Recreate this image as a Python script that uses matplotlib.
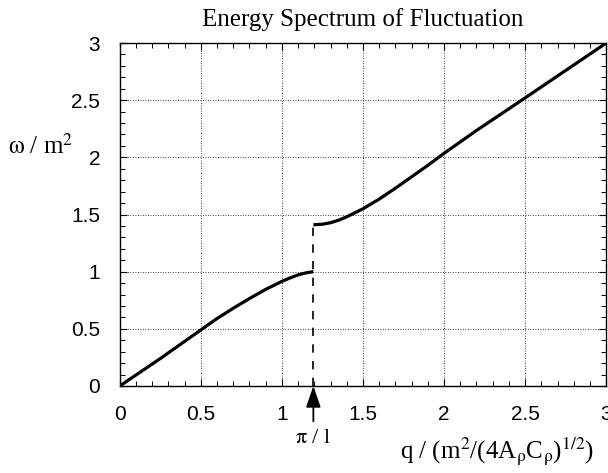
import numpy as np
import matplotlib
matplotlib.use('Agg')
import matplotlib.pyplot as plt
from matplotlib.ticker import MultipleLocator

# values
q_lower = [0.0, 0.25, 0.5, 0.6, 0.7, 0.8, 0.9, 1.0, 1.05, 1.1, 1.15, 1.194]
w_lower = [0.0, 0.24, 0.49, 0.59, 0.68, 0.765, 0.845, 0.915, 0.945, 0.972, 0.99, 1.0]
q_upper = [1.194, 1.25, 1.3, 1.35, 1.4, 1.45, 1.5, 1.6, 1.7, 1.8, 1.9, 2.0, 2.2, 2.5, 3.0]
w_upper = [1.41, 1.415, 1.428, 1.45, 1.48, 1.515, 1.55, 1.635, 1.73, 1.83, 1.93, 2.035, 2.235, 2.52, 3.0]
q_gap = 1.194
gap_label = r'$\mathrm{\pi}$ / l'
title = 'Energy Spectrum of Fluctuation'

plt.rcParams['mathtext.fontset'] = 'stix'
serif = 'Liberation Serif'
sans = 'Liberation Sans'

fig = plt.figure(figsize=(6.08, 4.73), dpi=100)
ax = fig.add_axes([0.197, 0.184, 0.800, 0.725])

ax.plot(q_lower, w_lower, color='k', lw=2.3, solid_capstyle='butt')
ax.plot(q_upper, w_upper, color='k', lw=2.3, solid_capstyle='butt')
ax.plot([q_gap, q_gap], [0, w_upper[0]], color='k', lw=1.2, ls=(0, (5, 5)))

ax.set_xlim(0, 3)
ax.set_ylim(0, 3)
ax.xaxis.set_minor_locator(MultipleLocator(0.1))
ax.yaxis.set_minor_locator(MultipleLocator(0.1))
ax.set_xticks([0, 0.5, 1, 1.5, 2, 2.5, 3])
ax.set_xticklabels(['0', '0.5', '1', '1.5', '2', '2.5', '3'])
ax.set_yticks([0, 0.5, 1, 1.5, 2, 2.5, 3])
ax.set_yticklabels(['0', '0.5', '1', '1.5', '2', '2.5', '3'])
ax.tick_params(which='both', direction='in', top=True, right=True)
ax.tick_params(which='major', length=5, width=0.8, labelsize=15, pad=14)
ax.tick_params(which='minor', length=3.5, width=0.7)
for lab in ax.get_xticklabels() + ax.get_yticklabels():
    lab.set_family(sans)
ax.grid(True, which='major', color='k', ls=(0, (1, 2)), lw=0.6)
for s in ax.spines.values():
    s.set_linewidth(1.0)

ax.set_title(title, family=serif, fontsize=18, pad=12)

fig.text(0.013, 0.69, r'$\mathrm{\omega}$ / m$^2$', family=serif, fontsize=18,
         ha='left', va='center')
fig.text(0.977, 0.045, r'q / (m$^2$/(4A$_\mathrm{\rho}$C$_\mathrm{\rho}$)$^{1/2}$)',
         family=serif, fontsize=18, ha='right', va='center')

# arrow marking pi/l under the axis
ax.annotate('', xy=(q_gap, 0), xytext=(q_gap, -0.31), xycoords='data',
            annotation_clip=False,
            arrowprops=dict(arrowstyle='-|>,head_length=1.3,head_width=0.45',
                            lw=1.3, color='k', shrinkA=0, shrinkB=0))
ax.text(q_gap, -0.46, gap_label, family=serif, fontsize=16, ha='center', va='center')

fig.savefig('out.png', dpi=100)
